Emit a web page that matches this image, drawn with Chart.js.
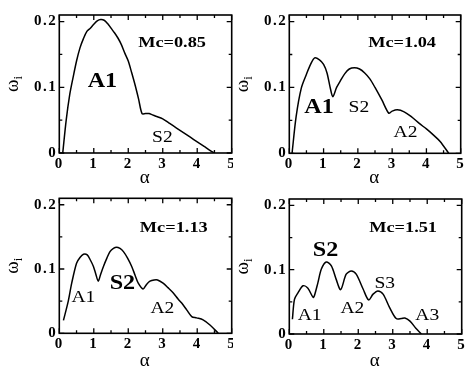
<!DOCTYPE html>
<html><head><meta charset="utf-8">
<script src="https://cdn.jsdelivr.net/npm/chart.js@4.4.0/dist/chart.umd.min.js"></script>
<style>
html,body{margin:0;padding:0;background:#fff;width:466px;height:367px;overflow:hidden;position:relative}
canvas{position:absolute}
</style></head><body>
<canvas id="c1"></canvas><canvas id="c2"></canvas><canvas id="c3"></canvas><canvas id="c4"></canvas>
<script>
// ---- data ----
const xTickLabels = [0,1,2,3,4,5];
const xMinorTicks = [0.5,1.5,2.5,3.5,4.5];
const yTickLabels = [0,0.1,0.2];
const yMinorTicks = [0.05,0.15];

const alpha1 = [0.1,0.2,0.3,0.4,0.5,0.6,0.7,0.8,0.9,1.0,1.1,1.2,1.3,1.4,1.5,1.6,1.7,1.8,1.9,2.0,2.1,2.2,2.3,2.4,2.5,2.6,2.7,2.8,3.0,3.2,3.4,3.6,3.8,4.0,4.2,4.4,4.5];
const omega1 = [0,0.05,0.088,0.115,0.14,0.16,0.174,0.185,0.19,0.196,0.201,0.203,0.202,0.197,0.19,0.183,0.175,0.165,0.152,0.14,0.122,0.103,0.082,0.06,0.06,0.06,0.058,0.056,0.052,0.045,0.038,0.031,0.024,0.017,0.01,0.003,0];

const alpha2 = [0.08,0.2,0.35,0.5,0.62,0.74,0.88,1.0,1.1,1.2,1.27,1.38,1.5,1.62,1.75,1.9,2.05,2.2,2.35,2.5,2.7,2.9,3.0,3.15,3.35,3.55,3.8,4.0,4.2,4.4,4.65];
const omega2 = [0,0.056,0.099,0.12,0.135,0.145,0.142,0.135,0.122,0.098,0.086,0.1,0.111,0.121,0.128,0.13,0.128,0.122,0.113,0.1,0.081,0.061,0.064,0.066,0.063,0.056,0.045,0.037,0.028,0.018,0];

const alpha3 = [0.12,0.26,0.36,0.5,0.6,0.7,0.81,0.9,0.99,1.06,1.13,1.2,1.28,1.38,1.47,1.57,1.66,1.76,1.86,1.98,2.1,2.2,2.29,2.43,2.53,2.63,2.75,2.85,3.01,3.15,3.3,3.45,3.55,3.7,3.84,3.98,4.17,4.37,4.61];
const omega3 = [0.02,0.05,0.078,0.109,0.118,0.123,0.122,0.114,0.104,0.092,0.081,0.092,0.104,0.117,0.127,0.132,0.134,0.132,0.127,0.117,0.104,0.09,0.078,0.069,0.076,0.081,0.083,0.083,0.078,0.071,0.063,0.053,0.047,0.036,0.026,0.024,0.021,0.013,0];

const alpha4 = [0.09,0.15,0.25,0.4,0.54,0.69,0.73,0.83,0.93,1.07,1.22,1.36,1.49,1.65,1.8,1.94,2.14,2.3,2.43,2.57,2.72,2.91,3.1,3.25,3.35,3.5,3.67,3.83];
const omega4 = [0.023,0.054,0.064,0.075,0.071,0.057,0.06,0.08,0.101,0.112,0.106,0.085,0.069,0.093,0.098,0.093,0.07,0.053,0.062,0.067,0.062,0.041,0.024,0.024,0.025,0.02,0.009,0];

const panelTitles = ['Mc=0.85','Mc=1.04','Mc=1.13','Mc=1.51'];
const modeLabels1 = ['A1','S2'];
const modeLabels2 = ['A1','S2','A2'];
const modeLabels3 = ['A1','S2','A2'];
const modeLabels4 = ['S2','A1','A2','S3','A3'];

// ---- annotation placement (data coords) and styles ----
const notePos = [
  [[3.27,0.167,1,15],[1.25,0.108,1,21],[2.99,0.023,0,17]],
  [[3.29,0.168,1,15],[0.87,0.070,1,21],[2.03,0.069,0,17],[3.39,0.032,0,17]],
  [[3.32,0.163,1,15],[0.70,0.055,0,17],[1.83,0.078,1,21],[2.99,0.039,0,17]],
  [[3.30,0.164,1,15],[1.05,0.129,1,21],[0.59,0.029,0,17],[1.83,0.040,0,17],[2.77,0.079,0,17],[4.00,0.029,0,17]]
];

// ---- layout (canvas placement & chart area in canvas px) ----
const layouts = [
  {id:'c1', cx:0,   cy:0,   W:233, H:195, L:59.3, R:231.7, T:15,   B:153,   mid:178},
  {id:'c2', cx:233, cy:0,   W:233, H:195, L:56.3, R:227.7, T:15,   B:153.3, mid:178},
  {id:'c3', cx:0,   cy:183, W:233, H:184, L:59.3, R:231.7, T:15.3, B:150.3, mid:178},
  {id:'c4', cx:233, cy:183, W:233, H:184, L:56.3, R:228.7, T:16,   B:151,   mid:178}
];

const series = [[alpha1,omega1],[alpha2,omega2],[alpha3,omega3],[alpha4,omega4]];
const modeLabels = [modeLabels1,modeLabels2,modeLabels3,modeLabels4];

const SERIF = '"Liberation Serif","Times New Roman",serif';

const decor = {
  id:'decor',
  beforeDraw(chart){ chart.ctx.letterSpacing = '1.5px'; },
  afterDraw(chart, args, o){
    const {ctx, chartArea:a, scales:{x,y}} = chart;
    ctx.save();
    ctx.letterSpacing = '0px';
    ctx.strokeStyle = '#000';
    ctx.lineWidth = 1.6;
    ctx.strokeRect(a.left, a.top, a.right-a.left, a.bottom-a.top);
    ctx.lineWidth = 1.3;
    ctx.beginPath();
    const xt = (v,len)=>{ const px=x.getPixelForValue(v);
      ctx.moveTo(px,a.bottom); ctx.lineTo(px,a.bottom-len);
      ctx.moveTo(px,a.top); ctx.lineTo(px,a.top+len); };
    const yt = (v,len)=>{ const py=y.getPixelForValue(v);
      ctx.moveTo(a.left,py); ctx.lineTo(a.left+len,py);
      ctx.moveTo(a.right,py); ctx.lineTo(a.right-len,py); };
    xTickLabels.forEach(v=>xt(v,5)); xMinorTicks.forEach(v=>xt(v,3));
    yTickLabels.forEach(v=>yt(v,5)); yMinorTicks.forEach(v=>yt(v,3));
    ctx.stroke();

    // y-axis title (omega_i), rotated
    ctx.save();
    ctx.fillStyle = '#000';
    ctx.translate(a.left-41, (a.top+a.bottom)/2);
    ctx.rotate(-Math.PI/2);
    ctx.font = '19px '+SERIF;
    const wo = ctx.measureText('ω').width;
    ctx.font = '13px '+SERIF;
    const wi = ctx.measureText('i').width;
    const x0 = -(wo+wi)/2;
    ctx.textBaseline = 'alphabetic';
    ctx.font = '19px '+SERIF;
    ctx.fillText('ω', x0, 0);
    ctx.font = '13px '+SERIF;
    ctx.fillText('i', x0+wo, 3.5);
    ctx.restore();

    // annotations
    const labels = [o.title].concat(o.modes);
    o.pos.forEach((p,i)=>{
      const px = x.getPixelForValue(p[0]), py = y.getPixelForValue(p[1]);
      ctx.save();
      ctx.fillStyle = '#000';
      ctx.translate(px,py);
      ctx.scale(i===0?1.22:1.15,1);
      ctx.font = (p[2]?'bold ':'')+p[3]+'px '+SERIF;
      ctx.textAlign = 'center';
      ctx.textBaseline = 'middle';
      ctx.fillText(labels[i],0,0);
      ctx.restore();
    });
    ctx.restore();
  }
};

layouts.forEach((g,k)=>{
  const cv = document.getElementById(g.id);
  cv.width = g.W; cv.height = g.H;
  cv.style.left = g.cx+'px'; cv.style.top = g.cy+'px';
  cv.style.width = g.W+'px'; cv.style.height = g.H+'px';
  const [al, om] = series[k];
  const titleSize = 19, titleLH = 0.6;
  const tpb = g.H - g.mid - titleSize*titleLH/2;
  new Chart(cv, {
    type:'line',
    data:{datasets:[{
      data: al.map((a,i)=>({x:a, y:om[i]})),
      borderColor:'#000', borderWidth:1.5, pointRadius:0, tension:0.3, fill:false
    }]},
    options:{
      responsive:false, animation:false, events:[], devicePixelRatio:1,
      layout:{padding:{left:0, top:g.T, right:g.W-g.R, bottom:0}},
      plugins:{legend:{display:false}, tooltip:{enabled:false},
        decor:{title:panelTitles[k], modes:modeLabels[k], pos:notePos[k]}},
      scales:{
        x:{type:'linear', min:0, max:5,
          grid:{display:false, drawTicks:false}, border:{display:false},
          afterBuildTicks:s=>{ s.ticks = xTickLabels.map(v=>({value:v})); },
          ticks:{padding:2, color:'#000', maxRotation:0, autoSkip:false,
            font:{family:SERIF, size:15, weight:'bold'}, callback:v=>String(v)},
          title:{display:true, text:'α', color:'#000',
            font:{family:SERIF, size:titleSize, lineHeight:titleLH}, padding:{top:0, bottom:tpb}},
          afterFit:s=>{ s.height = g.H - g.B; s.paddingLeft = 0; s.paddingRight = 0; }
        },
        y:{type:'linear', min:0, max:0.21,
          grid:{display:false, drawTicks:false}, border:{display:false},
          afterBuildTicks:s=>{ s.ticks = yTickLabels.map(v=>({value:v})); },
          ticks:{padding:2, color:'#000', autoSkip:false,
            font:{family:SERIF, size:15, weight:'bold'}, callback:v=>(v===0?'0':v.toFixed(1))},
          afterFit:s=>{ s.width = g.L; s.paddingTop = 0; s.paddingBottom = 0; }
        }
      }
    },
    plugins:[decor]
  });
});
</script>
</body></html>
